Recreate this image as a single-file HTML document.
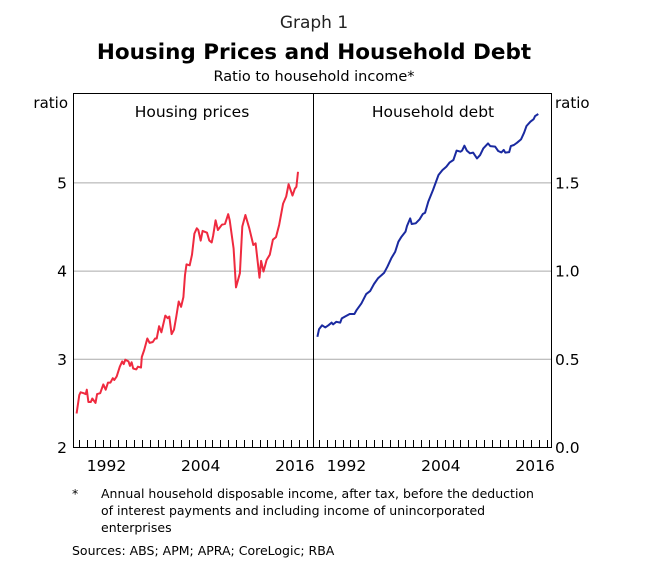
<!DOCTYPE html>
<html><head><meta charset="utf-8"><style>
body{margin:0;background:#fff;}
svg{display:block;font-family:"DejaVu Sans","Liberation Sans",Arial,sans-serif;}
</style></head><body>
<svg width="652" height="565" viewBox="0 0 652 565">
<text x="314" y="28" text-anchor="middle" font-size="17" fill="#222">Graph 1</text>
<text x="314" y="59" text-anchor="middle" font-size="21.5" font-weight="bold" fill="#000">Housing Prices and Household Debt</text>
<text x="314" y="81" text-anchor="middle" font-size="14.5" fill="#000">Ratio to household income*</text>
<g id="grid"></g>
<g id="ticks"></g>
<g id="series"></g>
<rect x="73.5" y="93.5" width="478" height="354" fill="none" stroke="#000" stroke-width="1"/>
<line x1="313.5" y1="93" x2="313.5" y2="447" stroke="#000"/>
<text x="192" y="117" text-anchor="middle" font-size="15.5">Housing prices</text>
<text x="433" y="117" text-anchor="middle" font-size="15.5">Household debt</text>
<text x="68" y="108" text-anchor="end" font-size="15">ratio</text>
<text x="555" y="108" font-size="15">ratio</text>
<g id="labels"></g>
<text x="72" y="498" font-size="12.5">*</text>
<text x="101" y="498" font-size="12.5">Annual household disposable income, after tax, before the deduction</text>
<text x="101" y="515" font-size="12.5">of interest payments and including income of unincorporated</text>
<text x="101" y="532" font-size="12.5">enterprises</text>
<text x="72" y="555" font-size="12.5">Sources:   ABS; APM; APRA; CoreLogic; RBA</text>
</svg>
<script>
const priceYears=[1988.7,1989.04,1989.2,1989.6,1989.85,1990,1990.2,1990.5,1990.7,1991.1,1991.3,1991.7,1992.1,1992.4,1992.7,1993.0,1993.3,1993.5,1993.8,1994.2,1994.5,1994.7,1994.9,1995.3,1995.5,1995.7,1995.9,1996.3,1996.5,1996.9,1997.0,1997.3,1997.7,1998.0,1998.4,1998.7,1998.9,1999.2,1999.5,2000.0,2000.3,2000.5,2000.8,2001.1,2001.4,2001.7,2002.0,2002.3,2002.5,2002.7,2003.1,2003.4,2003.7,2004.0,2004.2,2004.5,2004.75,2005.3,2005.6,2005.9,2006.1,2006.4,2006.7,2007.2,2007.6,2008.0,2008.2,2008.7,2009.0,2009.5,2009.8,2010.2,2010.7,2011.2,2011.5,2012.0,2012.2,2012.5,2012.9,2013.3,2013.7,2014.1,2014.5,2015.0,2015.4,2015.7,2016.2,2016.5,2016.7,2016.9];
const priceValues=[2.38,2.59,2.62,2.61,2.60,2.65,2.51,2.51,2.55,2.50,2.60,2.61,2.71,2.65,2.73,2.73,2.78,2.76,2.80,2.91,2.97,2.94,2.99,2.97,2.92,2.96,2.89,2.88,2.91,2.90,3.02,3.10,3.23,3.18,3.19,3.23,3.23,3.37,3.30,3.49,3.46,3.48,3.28,3.33,3.48,3.65,3.59,3.70,3.95,4.07,4.06,4.18,4.42,4.48,4.46,4.34,4.45,4.43,4.34,4.32,4.40,4.57,4.46,4.52,4.53,4.64,4.57,4.25,3.81,3.97,4.50,4.63,4.48,4.29,4.31,3.92,4.11,3.99,4.12,4.18,4.35,4.38,4.52,4.76,4.84,4.98,4.85,4.93,4.95,5.12];
const debtYears=[1988.8,1989.0,1989.4,1989.8,1990.2,1990.6,1990.8,1991.2,1991.7,1991.9,1992.3,1992.9,1993.5,1993.8,1994.4,1995.0,1995.5,1996.0,1996.5,1997.3,1997.7,1998.2,1998.7,1999.1,1999.5,2000.0,2000.2,2000.6,2000.8,2001.3,2001.8,2002.2,2002.5,2002.9,2003.5,2004.2,2004.7,2005.2,2005.6,2006.1,2006.5,2007.0,2007.2,2007.5,2007.8,2008.2,2008.6,2009.1,2009.5,2009.9,2010.5,2010.8,2011.4,2011.8,2012.2,2012.5,2012.7,2013.2,2013.4,2013.8,2014.2,2014.7,2015.1,2015.4,2015.9,2016.3,2016.5,2016.9];
const debtValues=[0.625,0.667,0.690,0.678,0.690,0.705,0.695,0.710,0.705,0.729,0.739,0.754,0.754,0.777,0.814,0.867,0.884,0.924,0.956,0.988,1.022,1.070,1.107,1.164,1.192,1.221,1.253,1.296,1.264,1.268,1.291,1.321,1.328,1.391,1.457,1.542,1.570,1.589,1.612,1.627,1.680,1.674,1.680,1.708,1.680,1.665,1.669,1.636,1.655,1.693,1.721,1.706,1.703,1.678,1.670,1.684,1.669,1.672,1.706,1.712,1.725,1.744,1.782,1.820,1.844,1.858,1.876,1.888];
const leftTicks=[2,3,4,5];
const rightTicks=[0,0.5,1.0,1.5];
const yearLabels=[1992,2004,2016];

const NS="http://www.w3.org/2000/svg";
const xL=y=>79+(y-1989)*7.85;
const xR=y=>319+(y-1989)*7.86;
const yL=v=>447-(v-2)*88.2;
const yR=v=>447-v*176.4;
function mk(tag,attrs,parent){const e=document.createElementNS(NS,tag);for(const k in attrs)e.setAttribute(k,attrs[k]);document.getElementById(parent).appendChild(e);return e;}
leftTicks.forEach(v=>{
  if(v>2){const g=mk('line',{x1:73,x2:551,y1:yL(v)+0.5,y2:yL(v)+0.5,stroke:'#aaa','stroke-width':1},'grid');
  
  }
  const t=mk('text',{x:67,y:yL(v)+6,'text-anchor':'end','font-size':15.5},'labels');t.textContent=String(v);
  
  
});
rightTicks.forEach(v=>{
  const t=mk('text',{x:555,y:yR(v)+6,'font-size':15.5},'labels');t.textContent=v.toFixed(1);
  
  
});
for(let yr=1989;yr<=2018;yr++){
  [xL,xR].forEach(f=>{const x=Math.round(f(yr))+0.5;
    const l=mk('line',{x1:x,x2:x,y1:447,y2:440,stroke:'#000','stroke-width':1},'ticks');
    
    });
}
yearLabels.forEach(yr=>{
  [xL,xR].forEach(f=>{const t=mk('text',{x:f(yr+0.5),y:471,'text-anchor':'middle','font-size':15.5},'labels');t.textContent=String(yr);
    
    });
});
const p1=mk('polyline',{points:priceYears.map((y,i)=>xL(y).toFixed(1)+','+yL(priceValues[i]).toFixed(1)).join(' '),fill:'none',stroke:'#ef2a3f','stroke-width':2,'stroke-linejoin':'round'},'series');


const p2=mk('polyline',{points:debtYears.map((y,i)=>xR(y).toFixed(1)+','+yR(debtValues[i]).toFixed(1)).join(' '),fill:'none',stroke:'#1a2aa0','stroke-width':2,'stroke-linejoin':'round'},'series');


</script>
</body></html>
